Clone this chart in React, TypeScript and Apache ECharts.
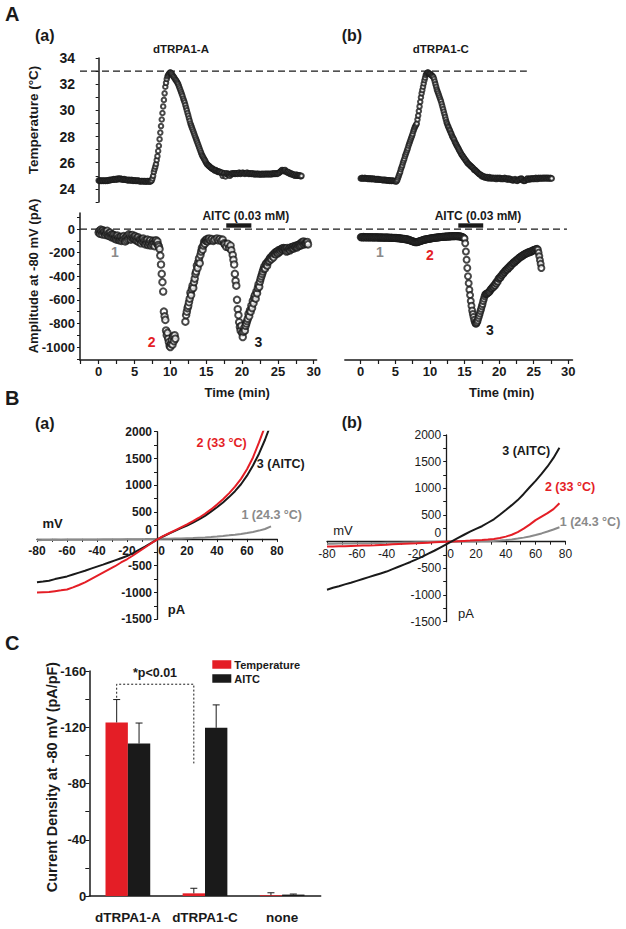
import React, { useEffect, useRef } from "react";
import * as echarts from "echarts";

const FONT = "'Liberation Sans', Arial, Helvetica, sans-serif";
const INK = "#1a1a1a";
const RED = "#e41e26";
const GREY = "#8a8a8a";

// ---------- Panel A: sampled traces (one value every 0.1 min, starting at t = 0) ----------
const SAMPLE_STEP_MIN = 0.1;

const TEMP_DTRPA1_A: (number | null)[] = [
  24.65, 24.6, 24.65, 24.6, 24.6, 24.65, 24.6, 24.6, 24.65, 24.6,
  24.6, 24.65, 24.6, 24.65, 24.65, 24.7, 24.65, 24.7, 24.7, 24.7,
  24.7, 24.75, 24.7, 24.75, 24.75, 24.7, 24.75, 24.8, 24.75, 24.75,
  24.8, 24.75, 24.75, 24.7, 24.75, 24.7, 24.75, 24.7, 24.7, 24.7,
  24.65, 24.7, 24.65, 24.7, 24.65, 24.65, 24.7, 24.65, 24.6, 24.65,
  24.65, 24.6, 24.65, 24.6, 24.6, 24.65, 24.6, 24.6, 24.55, 24.6,
  24.6, 24.6, 24.55, 24.6, 24.6, 24.55, 24.6, 24.55, 24.6, 24.6,
  24.55, 24.6, 24.55, 24.6, 24.65, 24.8, 25.0, 25.3, 25.5, 25.7,
  25.9, 26.2, 26.5, 26.9, 27.3, 27.8, 28.3, 28.8, 29.3, 29.8,
  30.3, 30.8, 31.3, 31.8, 32.1, 32.4, 32.6, 32.7, 32.8, 32.85,
  32.9, 32.85, 32.8, 32.7, 32.6, 32.55, 32.45, 32.35, 32.3, 32.2,
  32.1, 32.0, 31.85, 31.7, 31.55, 31.4, 31.25, 31.1, 30.9, 30.75,
  30.6, 30.4, 30.2, 30.0, 29.8, 29.6, 29.4, 29.2, 29.0, 28.85,
  28.7, 28.55, 28.4, 28.25, 28.1, 27.95, 27.8, 27.65, 27.5, 27.35,
  27.2, 27.05, 26.9, 26.75, 26.6, 26.5, 26.4, 26.3, 26.2, 26.1,
  26.0, 25.9, 25.85, 25.8, 25.75, 25.7, 25.65, 25.6, 25.55, 25.55,
  25.5, 25.45, 25.4, 25.45, 25.4, 25.35, 25.3, 25.35, 25.3, 25.3,
  25.25, 25.2, 25.25, 25.0, 25.2, 25.15, 25.2, 24.95, 25.15, 25.2,
  25.1, 25.15, 25.1, 25.0, 25.15, 25.1, 25.2, 25.15, 25.2, 25.15,
  25.2, 25.15, 25.2, 25.2, 25.15, 25.2, 25.25, 25.2, 25.15, 25.2,
  25.2, 25.25, 25.2, 25.2, 25.15, 25.2, 25.2, 25.25, 25.2, 25.15,
  25.2, 25.15, 25.2, 25.15, 25.15, 25.2, 25.15, 25.1, 25.15, 25.15,
  25.1, 25.15, 25.15, 25.1, 25.15, 25.1, 25.1, 25.15, 25.1, 25.15,
  25.1, 25.15, 25.1, 25.15, 25.15, 25.1, 25.15, 25.15, 25.1, 25.15,
  25.15, 25.1, 25.15, 25.2, 25.15, 25.15, 25.2, 25.15, 25.2, 25.15,
  25.2, 25.2, 25.25, 25.3, 25.35, 25.4, 25.45, 25.4, 25.35, 25.4,
  25.45, 25.35, 25.3, 25.25, 25.3, 25.2, 25.25, 25.15, 25.2, 25.1,
  25.15, 25.1, 25.05, 25.1, 25.0, 25.05, 25.1, 25.0, 25.05, 25.0,
  25.05, 25.0, 24.95, 25.0,
];

const TEMP_DTRPA1_C: (number | null)[] = [
  24.8, 24.8, 24.85, 24.8, 24.8, 24.8, 24.85, 24.8, 24.8, 24.8,
  24.8, 24.75, 24.8, 24.8, 24.75, 24.8, 24.75, 24.75, 24.8, 24.75,
  24.75, 24.75, 24.7, 24.75, 24.75, 24.7, 24.75, 24.7, 24.7, 24.7,
  24.7, 24.7, 24.65, 24.7, 24.7, 24.65, 24.7, 24.65, 24.65, 24.65,
  24.65, 24.65, 24.6, 24.65, 24.6, 24.6, 24.65, 24.6, 24.6, 24.6,
  24.6, 24.55, 24.6, 24.7, 24.85, 25.0, 25.15, 25.3, 25.5, 25.65,
  25.8, 26.0, 26.15, 26.3, 26.5, 26.65, 26.8, 26.95, 27.1, 27.3,
  27.45, 27.6, 27.75, 27.9, 28.05, 28.2, 28.4, 28.55, 28.7, 28.8,
  28.9, 29.0, 29.3, 29.6, 29.95, 30.3, 30.65, 31.0, 31.3, 31.55,
  31.8, 32.05, 32.3, 32.5, 32.7, 32.8, 32.85, 32.9, 32.85, 32.8,
  32.8, 32.75, 32.7, 32.65, 32.6, 32.55, 32.4, 32.2, 32.0, 31.8,
  31.6, 31.45, 31.3, 31.15, 31.0, 30.85, 30.7, 30.5, 30.3, 30.1,
  29.9, 29.7, 29.5, 29.3, 29.1, 28.95, 28.8, 28.7, 28.55, 28.45,
  28.3, 28.2, 28.05, 27.95, 27.85, 27.75, 27.6, 27.5, 27.4, 27.3,
  27.2, 27.1, 27.0, 26.9, 26.8, 26.7, 26.6, 26.55, 26.45, 26.4,
  26.3, 26.25, 26.15, 26.1, 26.0, 25.95, 25.9, 25.85, 25.8, 25.75,
  25.7, 25.65, 25.6, 25.55, 25.45, 25.45, 25.4, 25.35, 25.3, 25.25,
  25.2, 25.15, 25.1, 25.1, 25.05, 24.95, 25.0, 24.95, 24.9, 24.95,
  24.85, 24.9, 24.85, 24.9, 24.8, 24.85, 24.9, 24.8, 24.85, 24.8,
  24.85, 24.8, 24.85, 24.8, 24.8, 24.85, 24.75, 24.8, 24.85, 24.8,
  24.8, 24.85, 24.8, 24.75, 24.8, 24.8, 24.75, 24.8, 24.85, 24.8,
  24.75, 24.8, 24.7, 24.75, 24.8, 24.75, 24.7, 24.75, 24.7, 24.65,
  24.7, 24.65, 24.7, 24.75, 24.7, 24.65, 24.6, 24.65, 24.7, 24.75,
  24.7, 24.75, 24.8, 24.75, 24.7, 24.6, 24.65, 24.6, 24.65, 24.7,
  24.75, 24.8, 24.75, 24.7, 24.75, 24.8, 24.75, 24.8, 24.75, 24.8,
  24.8, 24.75, 24.8, 24.85, 24.8, 24.75, 24.8, 24.85, 24.8, 24.8,
  24.85, 24.8, 24.8, 24.85, 24.8, 24.85, 24.8, 24.85, 24.8, 24.85,
  24.8, 24.85, 24.8, 24.8, 24.85, 24.8, 24.8,
];

const CURRENT_DTRPA1_A: (number | null)[] = [
  -30, -15, -40, -5, -20, -45, -10, -30, -20, -50,
  -25, -40, -15, -55, -35, -60, -30, -50, -70, -45,
  -65, -50, -80, -60, -75, -90, -55, -85, -70, -95,
  -80, -65, -100, -75, -90, -60, -85, -105, -70, -95,
  -60, -85, -45, -75, -55, -90, -70, -50, -80, -65,
  -85, -60, -95, -75, -100, -70, -110, -85, -95, -120,
  -90, -105, -80, -115, -95, -130, -100, -120, -90, -135,
  -110, -125, -95, -140, -115, -130, -100, -120, -145, -105,
  -95, -120, -105, -135, -150, -170, -225, -300, -380, -450,
  -530, -700, -740, -770, -860, -900, -880, -930, -960, -990,
  -1000, -970, -940, -980, -910, -950, -900, -930, null, null,
  null, null, null, null, null, null, null, null, null, null,
  null, -785, -730, -700, -670, -650, -620, -590, -540, -560,
  -510, -480, -500, -450, -420, -380, -360, -310, -330, -280,
  -250, -290, -220, -190, -160, -175, -140, -110, -125, -95,
  -100, -85, -105, -90, -80, null, -95, null, -85, null,
  -100, null, -90, null, null, -80, null, -95, null, -85,
  null, -100, null, -90, null, -120, -130, null, -150, null,
  -125, null, -160, null, -140, -180, null, -220, -260, -300,
  -380, -440, -480, -600, -680, -730, -790, -830, -860, -820,
  -880, -915, -870, -840, -860, -820, -800, -780, -760, -720,
  -740, -690, -700, -650, -670, -610, -630, -580, -560, -590,
  -530, -545, -500, -470, -490, -445, -420, -400, -380, -360,
  -340, -320, -335, -300, -290, -310, -280, -265, -270, -250,
  -240, -255, -230, -220, -240, -210, -200, -215, -195, -190,
  -205, -180, -195, -175, -185, -170, -165, -175, -160, -170,
  -165, -175, -190, -160, -185, -170, -165, -180, -155, -170,
  -160, -150, -165, -145, -155, -150, -140, -155, -135, -145,
  -130, -140, -120, -135, -110, -125, -105, -130, -115, -125,
  -120, -110, -130,
];

const CURRENT_DTRPA1_C: (number | null)[] = [
  -70, -68, -72, -70, -66, -70, -72, -68, -70, -70,
  -72, -68, -70, -72, -70, -68, -72, -70, -70, -72,
  -70, -72, -68, -72, -70, -72, -70, -74, -70, -72,
  -72, -70, -74, -72, -72, -74, -72, -70, -74, -72,
  -74, -72, -74, -76, -72, -74, -76, -74, -76, -74,
  -76, -74, -78, -76, -78, -76, -80, -78, -80, -82,
  -80, -82, -84, -82, -86, -84, -88, -86, -90, -92,
  -92, -95, -97, -100, -102, -104, -106, -108, -110, -112,
  -110, -112, -110, -108, -106, -104, -102, -100, -98, -96,
  -94, -92, -90, -88, -88, -86, -84, -84, -82, -82,
  -80, -80, -78, -78, -76, -76, -75, -74, -74, -72,
  -72, -72, -70, -70, -70, -68, -68, -68, -66, -66,
  -66, -65, -64, -64, -64, -63, -63, -62, -62, -62,
  -62, -61, -60, -60, -60, -61, -60, -59, -60, -60,
  -60, -61, -62, -62, -63, -64, -66, -68, -72, -76,
  -80, -120, -190, -260, -330, -400, -460, -515, -560, -610,
  -650, -690, -720, -745, -770, -790, -800, -800, -790, -775,
  -755, -735, -715, -695, -675, -655, -635, -610, -590, -570,
  -555, -550, -548, -545, -540, -535, -530, -520, -510, -505,
  -500, -488, -492, -475, -478, -458, -462, -442, -445, -422,
  -420, -408, -410, -395, -392, -378, -380, -366, -365, -352,
  -350, -340, -342, -328, -330, -316, -318, -304, -306, -293,
  -290, -282, -283, -272, -273, -262, -263, -253, -252, -243,
  -240, -234, -235, -226, -226, -218, -218, -211, -212, -205,
  -205, -200, -202, -195, -197, -190, -192, -185, -187, -181,
  -180, -176, -178, -170, -172, -168, -175, -200, -230, -265,
  -295, -330,
];

const TIME_LABELS = [0, 5, 10, 15, 20, 25, 30];
const TIME_TICKS = [-2.5, 0, 2.5, 5, 7.5, 10, 12.5, 15, 17.5, 20, 22.5, 25, 27.5, 30];
const TEMP_LABELS = [24, 26, 28, 30, 32, 34];
const TEMP_TICKS = [23, 24, 25, 26, 27, 28, 29, 30, 31, 32, 33, 34];
const CURRENT_LABELS = [-1000, -800, -600, -400, -200, 0];
const CURRENT_TICKS = [-1100, -1000, -900, -800, -700, -600, -500, -400, -300, -200, -100, 0, 100];

const TEMP_REF_LINE = 33; // dashed line, °C
const TEMP_REF_END_MIN = 24; // ends above right panel at this time
const CURRENT_REF_LINE = 0;
const CURRENT_REF_END_MIN = 29.8;
const AITC_WINDOW_A = [17.8, 21.3];
const AITC_WINDOW_C = [14.1, 17.7];
const AITC_BAR_PA = 30; // vertical position of the AITC bar (pA)

// ---------- Panel B: I-V curves ----------
const IV_MV = [-80, -76, -72, -68, -64, -60, -56, -52, -48, -44, -40, -36, -32, -28, -24, -20, -16, -12, -8, -4,
  0, 4, 8, 12, 16, 20, 24, 28, 32, 36, 40, 44, 48, 52, 56, 60, 64, 68, 72, 76];
const IV_A_AITC = [-810, -795, -780, -750, -725, -700, -665, -630, -595, -555, -517, -480, -440, -400, -360, -320, -265, -205, -145, -80,
  -15, 45, 100, 150, 200, 250, 305, 365, 430, 510, 590, 680, 780, 890, 1020, 1180, 1370, 1590, 1850, 2150];
const IV_A_HEAT = [-1000, -995, -990, -975, -960, -945, -905, -860, -810, -750, -690, -630, -570, -510, -440, -380, -310, -235, -160, -85,
  -15, 50, 105, 160, 215, 270, 330, 395, 470, 550, 640, 740, 850, 975, 1120, 1300, 1520, 1800, 2100, 2400];
const IV_A_BASE = [-25, -20, -22, -18, -20, -18, -16, -18, -15, -14, -15, -12, -12, -10, -10, -8, -6, -5, -4, -2,
  0, 2, 4, 6, 8, 12, 16, 22, 28, 36, 45, 55, 66, 78, 92, 110, 130, 155, 185, 235];
const IV_C_AITC = [-900, -865, -835, -800, -770, -735, -700, -665, -630, -595, -560, -515, -470, -425, -380, -330, -280, -225, -170, -110,
  -50, 10, 70, 130, 190, 240, 290, 355, 420, 505, 594, 685, 780, 895, 1020, 1140, 1270, 1410, 1570, 1760];
const IV_C_HEAT = [-90, -88, -85, -84, -80, -76, -72, -70, -66, -60, -56, -50, -45, -40, -35, -30, -24, -18, -12, -6,
  0, 5, 10, 15, 20, 26, 32, 40, 52, 70, 95, 130, 180, 245, 320, 405, 470, 535, 610, 720];
const IV_C_BASE = [-40, -38, -36, -35, -33, -31, -30, -28, -26, -24, -22, -20, -18, -15, -13, -11, -9, -7, -5, -2,
  0, 1, 2, 3, 4, 5, 7, 10, 14, 20, 30, 42, 58, 76, 98, 125, 155, 190, 228, 270];
const MV_MIN = -80;
const MV_MAX = 80;
const PA_MIN = -1500;
const PA_MAX = 2000;
const MV_LABELS = [-80, -60, -40, -20, 0, 20, 40, 60, 80];
const MV_TICKS = [-80, -70, -60, -50, -40, -30, -20, -10, 0, 10, 20, 30, 40, 50, 60, 70, 80];
const PA_LABELS = [-1500, -1000, -500, 0, 500, 1000, 1500, 2000];
const PA_TICKS = [-1500, -1250, -1000, -750, -500, -250, 0, 250, 500, 750, 1000, 1250, 1500, 1750, 2000];

// ---------- Panel C: bar chart ----------
const GROUPS = ["dTRPA1-A", "dTRPA1-C", "none"];
const DENSITY_TEMP = [-123.4, -1.9, -0.5];
const DENSITY_TEMP_ERR = [16.3, 3.6, 1.8];
const DENSITY_AITC = [-108.4, -119.6, -1.0];
const DENSITY_AITC_ERR = [14.6, 16.3, 0.4];
const DENSITY_LABELS = [-160, -120, -80, -40, 0];
const DENSITY_TICKS = [-160, -140, -120, -100, -80, -60, -40, -20, 0];
const BRACKET = [[0, -141], [0, -150.6], [1, -150.6], [1, -94.3]]; // [group, value] on the Temperature bars
const BAR_FRAC = 0.29;

const toPairs = (vals: (number | null)[]) =>
  vals.map((v, i) => (v == null ? null : [Math.round(i * SAMPLE_STEP_MIN * 100) / 100, v])).filter(Boolean);
const ivPairs = (vals: number[]) => IV_MV.map((mv, i) => [mv, vals[i]]);

const font = (size: number, weight: string = "bold") => ({ fontFamily: FONT, fontSize: size, fontWeight: weight, color: INK });

function timeAxis(gridIndex: number, min: number, max: number, shown: boolean) {
  return {
    type: "value", gridIndex, min, max, show: shown,
    axisLine: { show: true, onZero: false, lineStyle: { color: INK, width: 1.5 } },
    axisTick: { show: true, length: 4, customValues: TIME_TICKS, lineStyle: { color: INK, width: 1.2 } },
    axisLabel: { customValues: TIME_LABELS, margin: 5, ...font(13) },
    splitLine: { show: false },
  };
}

const hiddenAxis = (gridIndex: number, min: number, max: number) => ({
  type: "value", gridIndex, min, max, show: false, splitLine: { show: false },
});

// An I-V panel: one data grid (axes hidden) plus two axis-only grids so the axes cross at (0 mV, 0 pA).
function ivPanel(left: number, top: number, width: number, height: number) {
  const zeroX = left + ((0 - MV_MIN) / (MV_MAX - MV_MIN)) * width;
  const zeroY = top + ((PA_MAX - 0) / (PA_MAX - PA_MIN)) * height;
  return [
    { left, top, width, height },
    { left: zeroX, top, width: left + width - zeroX, height },
    { left, top, width, height: zeroY - top },
  ];
}

const IV_A_GRIDS = ivPanel(37, 431.7, 240, 187.6);
const IV_C_GRIDS = ivPanel(327, 435, 238.4, 186.7);

function buildOption(): any {
  const circle = (size: number) => ({
    type: "scatter", symbol: "emptyCircle", symbolSize: size,
    itemStyle: { color: INK, borderColor: INK, borderWidth: 0.7 },
    silent: true,
  });
  const ivLine = (ai: number, vals: number[], color: string, z: number) => ({
    type: "line", xAxisIndex: ai, yAxisIndex: ai, data: ivPairs(vals), showSymbol: false,
    lineStyle: { color, width: 2 }, z, silent: true,
  });
  // grid indices: 0-3 panel A, 4 B(a) data, 5 B(b) data, 6 C, 7/8 B(a) axes, 9/10 B(b) axes
  const ivYShown = (gridIndex: number, weight: string) => ({
    type: "value", gridIndex, min: PA_MIN, max: PA_MAX, position: "left",
    axisLine: { show: true, onZero: false, lineStyle: { color: INK, width: 1.3 } },
    axisTick: { show: true, length: 3, customValues: PA_TICKS, lineStyle: { color: INK } },
    axisLabel: {
      customValues: PA_LABELS, margin: 5, ...font(12, weight),
      formatter: (v: number) => (v === 0 ? "{z|0}" : String(v)),
      rich: { z: { ...font(12, weight), padding: [0, 0, 18, 0] } },
    },
    splitLine: { show: false },
  });
  const ivXShown = (gridIndex: number, weight: string) => ({
    type: "value", gridIndex, min: MV_MIN, max: MV_MAX, position: "bottom",
    axisLine: { show: true, onZero: false, lineStyle: { color: INK, width: 1.3 } },
    axisTick: { show: true, length: 3, customValues: MV_TICKS, lineStyle: { color: INK } },
    axisLabel: {
      customValues: MV_LABELS, margin: 6, ...font(12, weight),
      formatter: (v: number) => (v === 0 ? "{z|0}" : String(v)),
      rich: { z: { ...font(12, weight), padding: [0, 0, 0, 9] } },
    },
    splitLine: { show: false },
  });
  return {
    animation: false,
    backgroundColor: "#ffffff",
    textStyle: { fontFamily: FONT },
    grid: [
      { left: 80, top: 58, width: 236.6, height: 144 },
      { left: 80, top: 213, width: 236.6, height: 147 },
      { left: 344.8, top: 58, width: 227.7, height: 144 },
      { left: 344.8, top: 213, width: 227.7, height: 147 },
      IV_A_GRIDS[0],
      IV_C_GRIDS[0],
      { left: 89.3, top: 671, width: 231.4, height: 225 },
      IV_A_GRIDS[1],
      IV_A_GRIDS[2],
      IV_C_GRIDS[1],
      IV_C_GRIDS[2],
    ],
    xAxis: [
      timeAxis(0, -2.6, 30.4, false),
      timeAxis(1, -2.6, 30.4, true),
      timeAxis(2, -2.3, 30.6, false),
      timeAxis(3, -2.3, 30.6, true),
      hiddenAxis(4, MV_MIN, MV_MAX),
      hiddenAxis(5, MV_MIN, MV_MAX),
      {
        type: "category", gridIndex: 6, data: GROUPS,
        axisLine: { show: true, lineStyle: { color: INK, width: 1.5 } },
        axisTick: { show: false },
        axisLabel: { margin: 14, interval: 0, ...font(13.5) },
      },
      hiddenAxis(7, 0, MV_MAX),
      ivXShown(8, "bold"),
      hiddenAxis(9, 0, MV_MAX),
      ivXShown(10, "normal"),
    ],
    yAxis: [
      {
        type: "value", gridIndex: 0, min: 23, max: 34,
        axisLine: { show: true, lineStyle: { color: INK, width: 1.5 } },
        axisTick: { show: true, length: 3, customValues: TEMP_TICKS, lineStyle: { color: INK } },
        axisLabel: { customValues: TEMP_LABELS, margin: 5, ...font(14) },
        splitLine: { show: false },
      },
      {
        type: "value", gridIndex: 1, min: -1110, max: 136,
        axisLine: { show: true, onZero: false, lineStyle: { color: INK, width: 1.5 } },
        axisTick: { show: true, length: 3, customValues: CURRENT_TICKS, lineStyle: { color: INK } },
        axisLabel: { customValues: CURRENT_LABELS, margin: 5, ...font(13), formatter: (v: number) => String(v) },
        splitLine: { show: false },
      },
      hiddenAxis(2, 23, 34),
      hiddenAxis(3, -1110, 136),
      hiddenAxis(4, PA_MIN, PA_MAX),
      hiddenAxis(5, PA_MIN, PA_MAX),
      {
        type: "value", gridIndex: 6, min: -160, max: 0, inverse: true,
        axisLine: { show: true, lineStyle: { color: INK, width: 1.5 } },
        axisTick: { show: true, length: 4, customValues: DENSITY_TICKS, lineStyle: { color: INK } },
        axisLabel: { customValues: DENSITY_LABELS, margin: 3, ...font(13), formatter: (v: number) => String(v) },
        splitLine: { show: false },
      },
      ivYShown(7, "bold"),
      hiddenAxis(8, 0, PA_MAX),
      ivYShown(9, "normal"),
      hiddenAxis(10, 0, PA_MAX),
    ],
    legend: {
      data: ["Temperature", "AITC"], orient: "vertical", left: 207.3, top: 654,
      itemWidth: 19, itemHeight: 8.5, itemGap: 3, icon: "rect",
      textStyle: { ...font(11), lineHeight: 11, padding: [0, 0, 0, -2] },
      selectedMode: false,
    },
    series: [
      { ...circle(4.5), name: "tempA", xAxisIndex: 0, yAxisIndex: 0, data: toPairs(TEMP_DTRPA1_A) },
      { ...circle(4.5), name: "tempC", xAxisIndex: 2, yAxisIndex: 2, data: toPairs(TEMP_DTRPA1_C) },
      { ...circle(6.5), name: "currA", xAxisIndex: 1, yAxisIndex: 1, data: toPairs(CURRENT_DTRPA1_A) },
      { ...circle(6), name: "currC", xAxisIndex: 3, yAxisIndex: 3, data: toPairs(CURRENT_DTRPA1_C) },
      ivLine(4, IV_A_BASE, GREY, 2),
      ivLine(4, IV_A_AITC, INK, 3),
      ivLine(4, IV_A_HEAT, RED, 4),
      ivLine(5, IV_C_BASE, GREY, 2),
      ivLine(5, IV_C_HEAT, RED, 3),
      ivLine(5, IV_C_AITC, INK, 4),
      {
        type: "bar", name: "Temperature", xAxisIndex: 6, yAxisIndex: 6, data: DENSITY_TEMP,
        barWidth: BAR_FRAC * 100 + "%", barGap: "0%", itemStyle: { color: RED }, silent: true,
      },
      {
        type: "bar", name: "AITC", xAxisIndex: 6, yAxisIndex: 6, data: DENSITY_AITC,
        barWidth: BAR_FRAC * 100 + "%", barGap: "0%", itemStyle: { color: INK }, silent: true,
      },
      {
        type: "custom", xAxisIndex: 6, yAxisIndex: 6, z: 5, silent: true,
        data: [
          ...DENSITY_TEMP.map((v, i) => [i, v, DENSITY_TEMP_ERR[i], -1]),
          ...DENSITY_AITC.map((v, i) => [i, v, DENSITY_AITC_ERR[i], 1]),
        ],
        renderItem: (params: any, api: any) => {
          const cat = api.value(0), mean = api.value(1), err = api.value(2), side = api.value(3);
          const bw = api.size([1, 0])[0] * BAR_FRAC;
          const base = api.coord([cat, mean]);
          const tip = api.coord([cat, mean - err]);
          const x = base[0] + (side * bw) / 2;
          return {
            type: "group",
            children: [
              { type: "line", shape: { x1: x, y1: base[1], x2: x, y2: tip[1] }, style: { stroke: INK, lineWidth: 1 } },
              { type: "line", shape: { x1: x - 3.5, y1: tip[1], x2: x + 3.5, y2: tip[1] }, style: { stroke: INK, lineWidth: 1 } },
            ],
          };
        },
      },
      {
        type: "custom", xAxisIndex: 6, yAxisIndex: 6, z: 5, silent: true,
        data: [[0, 0]],
        renderItem: (params: any, api: any) => {
          const bw = api.size([1, 0])[0] * BAR_FRAC;
          const pts = BRACKET.map(([c, v]) => {
            const p = api.coord([c, v]);
            return [p[0] - bw / 2, p[1]];
          });
          return {
            type: "polyline", shape: { points: pts },
            style: { stroke: INK, lineWidth: 1, lineDash: [2, 2], fill: null },
          };
        },
      },
    ],
  };
}

function txt(text: string, x: number, y: number, size: number, opts: any = {}) {
  return {
    type: "text", x, y, rotation: opts.rotation || 0, silent: true, z: 10,
    style: {
      text, fontFamily: FONT, fontSize: size, fontWeight: opts.weight || "bold",
      fill: opts.color || INK, align: opts.align || "center", verticalAlign: "middle",
    },
  };
}

const STATIC_TEXT = [
  txt("A", 5, 14, 20, { align: "left" }),
  txt("(a)", 35, 35.5, 16, { align: "left" }),
  txt("(b)", 341.7, 35.5, 16, { align: "left" }),
  txt("dTRPA1-A", 181, 48.5, 11.5),
  txt("dTRPA1-C", 440.8, 48.5, 11.5),
  txt("Temperature (°C)", 33, 120, 13.5, { rotation: Math.PI / 2 }),
  txt("Amplitude at -80 mV (pA)", 33, 276, 13, { rotation: Math.PI / 2 }),
  txt("Time (min)", 237.2, 392.5, 13),
  txt("Time (min)", 501.7, 392.5, 13),
  txt("AITC (0.03 mM)", 245.8, 216, 12),
  txt("AITC (0.03 mM)", 478, 216, 12),
  txt("1", 115, 251.7, 14, { color: GREY }),
  txt("2", 151.7, 341.7, 14, { color: RED }),
  txt("3", 258.3, 341.7, 14),
  txt("1", 380, 251.7, 14, { color: GREY }),
  txt("2", 430, 255, 14, { color: RED }),
  txt("3", 490, 330, 14),
  txt("B", 5, 398, 20, { align: "left" }),
  txt("(a)", 35, 423, 16, { align: "left" }),
  txt("(b)", 341.7, 422.5, 16, { align: "left" }),
  txt("mV", 52.5, 523, 13),
  txt("pA", 176.5, 609, 13),
  txt("mV", 343, 530, 13, { weight: "normal" }),
  txt("pA", 466, 613.5, 13, { weight: "normal" }),
  txt("2 (33 °C)", 221.7, 442.5, 12.5, { color: RED }),
  txt("3 (AITC)", 280.8, 464, 12.5),
  txt("1 (24.3 °C)", 271.7, 515, 12.5, { color: GREY }),
  txt("3 (AITC)", 526.2, 451, 12.5),
  txt("2 (33 °C)", 570, 487, 12.5, { color: RED }),
  txt("1 (24.3 °C)", 590, 521.7, 12.5, { color: GREY }),
  txt("C", 5, 643, 20, { align: "left" }),
  txt("Current Density at -80 mV (pA/pF)", 51.7, 777, 14.4, { rotation: Math.PI / 2 }),
  txt("*p<0.01", 155, 673, 12.5),
];

export default function App() {
  const ref = useRef<HTMLDivElement>(null);
  useEffect(() => {
    if (!ref.current) return;
    const chart = echarts.init(ref.current, null, { renderer: "svg" });
    chart.setOption(buildOption());
    const px = (axis: string, idx: number, v: number) => chart.convertToPixel({ [axis]: idx } as any, v) as unknown as number;
    const dash = { stroke: INK, lineWidth: 1.3, lineDash: [7, 4] };
    const yT = px("yAxisIndex", 0, TEMP_REF_LINE);
    const yI = px("yAxisIndex", 1, CURRENT_REF_LINE);
    const yBar = px("yAxisIndex", 1, AITC_BAR_PA);
    const graphic: any[] = [
      ...STATIC_TEXT,
      {
        type: "line", silent: true, z: 1,
        shape: { x1: px("xAxisIndex", 0, -2.6), y1: yT, x2: px("xAxisIndex", 2, TEMP_REF_END_MIN), y2: yT },
        style: dash,
      },
      {
        type: "line", silent: true, z: 1,
        shape: { x1: px("xAxisIndex", 1, -2.6), y1: yI, x2: px("xAxisIndex", 3, CURRENT_REF_END_MIN), y2: yI },
        style: dash,
      },
      {
        type: "rect", silent: true, z: 2,
        shape: {
          x: px("xAxisIndex", 1, AITC_WINDOW_A[0]), y: yBar - 2.2,
          width: px("xAxisIndex", 1, AITC_WINDOW_A[1]) - px("xAxisIndex", 1, AITC_WINDOW_A[0]), height: 4.4,
        },
        style: { fill: INK },
      },
      {
        type: "rect", silent: true, z: 2,
        shape: {
          x: px("xAxisIndex", 3, AITC_WINDOW_C[0]), y: yBar - 2.2,
          width: px("xAxisIndex", 3, AITC_WINDOW_C[1]) - px("xAxisIndex", 3, AITC_WINDOW_C[0]), height: 4.4,
        },
        style: { fill: INK },
      },
    ];
    chart.setOption({ graphic });
    return () => chart.dispose();
  }, []);
  return <div ref={ref} style={{ position: "absolute", left: 0, top: 0, width: 626, height: 929 }} />;
}
